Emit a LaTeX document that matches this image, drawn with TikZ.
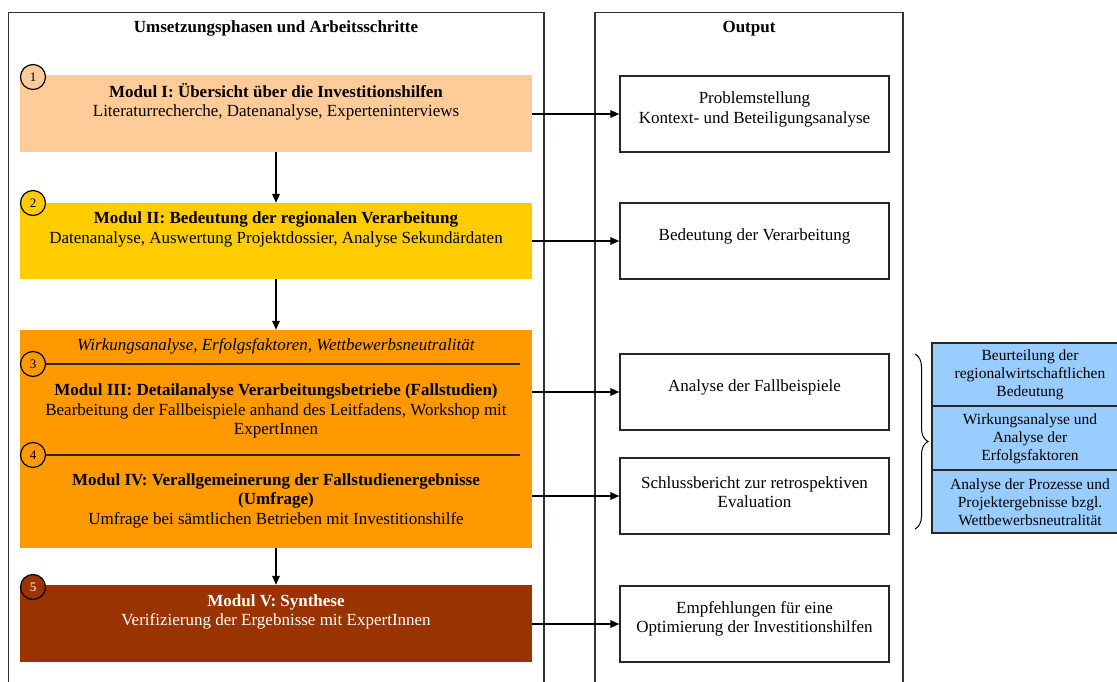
\documentclass[tikz,border=0pt]{standalone}
\usepackage{fontspec}
\setmainfont{Liberation Serif}
\usetikzlibrary{arrows.meta,decorations.pathreplacing}
\definecolor{cpeach}{HTML}{FFCC99}
\definecolor{cyellow}{HTML}{FFCC00}
\definecolor{corange}{HTML}{FF9900}
\definecolor{cbrown}{HTML}{993300}
\definecolor{cblue}{HTML}{99CCFF}
\begin{document}
\begin{tikzpicture}[x=1pt,y=-1pt,
  frame/.style={draw=black!80, line width=1.4pt},
  modbox/.style={rectangle, draw=none, inner sep=0pt, minimum width=512pt},
  outbox/.style={rectangle, draw=black!85, line width=1.3pt, inner sep=0pt, minimum width=269pt, minimum height=76pt},
  bluebox/.style={rectangle, draw=black!85, line width=1.3pt, fill=cblue, inner sep=0pt, minimum width=196pt},
  txt/.style={inner sep=0pt, align=center, font=\fontsize{17}{19.5}\selectfont},
  btxt/.style={inner sep=0pt, align=center, font=\fontsize{15.5}{18}\selectfont},
  num/.style={circle, draw=black, line width=1.2pt, inner sep=0pt, minimum size=25pt, font=\fontsize{13}{13}\selectfont},
  arr/.style={draw=black, line width=1.4pt, -{Triangle[length=9pt,width=7.5pt]}},
  sep/.style={draw=black!85, line width=1.5pt}
]
\useasboundingbox (0,0) rectangle (1117,682);
\clip (0,0) rectangle (1117,682);
\fill[white] (0,0) rectangle (1117,682);

% frames
\draw[frame] (8.5,690) -- (8.5,12.5) -- (544,12.5) -- (544,690);
\draw[frame] (595,690) -- (595,12.5) -- (903,12.5) -- (903,690);
\node[txt] (tl) at (276,28.5) {\textbf{Umsetzungsphasen und Arbeitsschritte}};
\node[txt] (tr) at (749,28.5) {\textbf{Output}};

% module boxes
\node[modbox, fill=cpeach, minimum height=77pt] (b1) at (276,113.5) {};
\node[modbox, fill=cyellow, minimum height=76pt] (b2) at (276,241) {};
\node[modbox, fill=corange, minimum height=218pt] (b34) at (276,439) {};
\node[modbox, fill=cbrown, minimum height=77pt] (b5) at (276,623.5) {};

\node[txt] (t1) at (276,102) {\textbf{Modul I: Übersicht über die Investitionshilfen}\\Literaturrecherche, Datenanalyse, Experteninterviews};
\node[txt] (t2) at (276,229.5) {\textbf{Modul II: Bedeutung der regionalen Verarbeitung}\\Datenanalyse, Auswertung Projektdossier, Analyse Sekundärdaten};
\node[txt] (ti) at (276,346) {\textit{Wirkungsanalyse, Erfolgsfaktoren, Wettbewerbsneutralität}};
\node[txt] (t3) at (276,411) {\textbf{Modul III: Detailanalyse Verarbeitungsbetriebe (Fallstudien)}\\Bearbeitung der Fallbeispiele anhand des Leitfadens, Workshop mit\\ExpertInnen};
\node[txt] (t4) at (276,500.5) {\textbf{Modul IV: Verallgemeinerung der Fallstudienergebnisse}\\\textbf{(Umfrage)}\\Umfrage bei sämtlichen Betrieben mit Investitionshilfe};
\node[txt, text=white] (t5) at (276,612) {\textbf{Modul V: Synthese}\\Verifizierung der Ergebnisse mit ExpertInnen};

% numbered circles
\node[num, fill=cpeach] (n1) at (33,77) {1};
\node[num, fill=cyellow] (n2) at (33,203) {2};
\node[num, fill=corange] (n3) at (33,364) {3};
\node[num, fill=corange] (n4) at (33,455) {4};
\node[num, fill=cbrown, text=white] (n5) at (33,587) {5};
\coordinate (s3) at (520,364);
\coordinate (s4) at (520,455);
\draw[sep] (n3.east) -- (s3);
\draw[sep] (n4.east) -- (s4);

% output boxes
\node[outbox] (o1) at (754.5,114) {};
\node[outbox] (o2) at (754.5,241) {};
\node[outbox] (o3) at (754.5,392) {};
\node[outbox] (o4) at (754.5,496) {};
\node[outbox] (o5) at (754.5,624) {};
\node[txt] (u1) at (754.5,109.5) {Problemstellung\\Kontext- und Beteiligungsanalyse};
\node[txt] (u2) at (754.5,236) {Bedeutung der Verarbeitung};
\node[txt] (u3) at (754.5,387) {Analyse der Fallbeispiele};
\node[txt] (u4) at (754.5,492) {Schlussbericht zur retrospektiven\\Evaluation};
\node[txt] (u5) at (754.5,619) {Empfehlungen für eine\\Optimierung der Investitionshilfen};

% blue boxes
\node[bluebox, minimum height=63pt] (c1) at (1030,374.5) {};
\node[bluebox, minimum height=64pt] (c2) at (1030,438) {};
\node[bluebox, minimum height=63pt] (c3) at (1030,501.5) {};
\node[btxt] (v1) at (1030,375) {Beurteilung der\\regionalwirtschaftlichen\\Bedeutung};
\node[btxt] (v2) at (1030,439) {Wirkungsanalyse und\\Analyse der\\Erfolgsfaktoren};
\node[btxt] (v3) at (1030,502.5) {Analyse der Prozesse und\\Projektergebnisse bzgl.\\Wettbewerbsneutralität};

% brace
\coordinate (bt) at (915,354);
\coordinate (bb) at (915,529);
\draw[line width=1pt, decorate, decoration={brace, amplitude=13pt}] (bt) -- (bb);

% vertical arrows
\draw[arr] (b1.south) -- (b2.north);
\draw[arr] (b2.south) -- (b34.north);
\draw[arr] (b34.south) -- (b5.north);

% horizontal arrows
\draw[arr] (b1.east |- o1.west) -- (o1.west);
\draw[arr] (b2.east |- o2.west) -- (o2.west);
\draw[arr] (b34.east |- o3.west) -- (o3.west);
\draw[arr] (b34.east |- o4.west) -- (o4.west);
\draw[arr] (b5.east |- o5.west) -- (o5.west);
\end{tikzpicture}
\end{document}
